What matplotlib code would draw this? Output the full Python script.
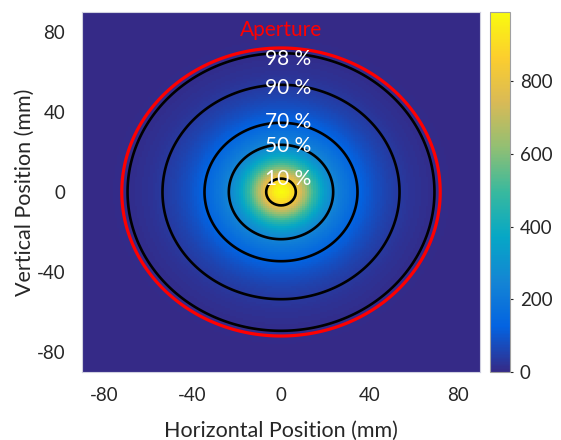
import numpy as np
import matplotlib
matplotlib.use("Agg")
import matplotlib.pyplot as plt
from matplotlib.colors import LinearSegmentedColormap

# ---- data ----
profile_r = [0, 3, 6, 9, 12, 15, 18, 21, 24, 28, 32, 36, 42, 48, 54, 60, 66, 72, 80, 130]
profile_i = [990, 960, 880, 740, 600, 480, 380, 300, 250, 200, 160, 125, 85, 55, 35, 20, 12, 6, 2, 0]
contour_r = [6.7, 23.6, 34.6, 53.6, 69.4]
contour_lbl = ["10 %", "50 %", "70 %", "90 %", "98 %"]
label_y = [6.5, 23, 35, 52, 66.5]
aperture_r = 72.0
xticks = [-80, -40, 0, 40, 80]
yticks = [-80, -40, 0, 40, 80]
cticks = [0, 200, 400, 600, 800]

parula = LinearSegmentedColormap.from_list(
    "parula", ['#352a87', '#0363e1', '#1485d4', '#06a7c6', '#38b99e',
               '#92bf73', '#d9ba56', '#fcce2e', '#f9fb0e'])

plt.rcParams['font.family'] = ['Lato', 'DejaVu Sans']
plt.rcParams['axes.unicode_minus'] = False
txt = '#262626'

fig = plt.figure(figsize=(5.61, 4.40), dpi=100)
ax = fig.add_axes([82/561, 1-372/440, 398/561, 360/440])
cax = fig.add_axes([490/561, 1-372/440, 20/561, 360/440])

g = np.linspace(-90, 90, 181)
X, Y = np.meshgrid(g, g)
R = np.hypot(X, Y)
Z = np.interp(R, profile_r, profile_i)

im = ax.imshow(Z, origin='lower', extent=[-90, 90, -90, 90], aspect='auto',
               cmap=parula, vmin=0, vmax=990, interpolation='nearest')
ax.contour(X, Y, R, levels=contour_r, colors='k', linewidths=1.9)
ax.contour(X, Y, R, levels=[aperture_r], colors='#ff0000', linewidths=2.3)

for lbl, yy in zip(contour_lbl, label_y):
    ax.text(3.2, yy, lbl, color='white', fontsize=15, ha='center', va='center')
ax.text(0, 81, "Aperture", color='#ff0000', fontsize=15, ha='center', va='center')

ax.set_xlim(-90, 90)
ax.set_ylim(-90, 90)
ax.set_xticks(xticks)
ax.set_yticks(yticks)
ax.tick_params(length=0, labelsize=13.5, colors=txt)
ax.tick_params(axis='x', pad=11)
ax.tick_params(axis='y', pad=12)
for s in ax.spines.values():
    s.set_color('#d0d0e0')
    s.set_linewidth(0.8)
ax.set_xlabel("Horizontal Position (mm)", fontsize=15.5, color=txt, labelpad=12)
ax.set_ylabel("Vertical Position (mm)", fontsize=15.5, color=txt, labelpad=1)

cb = fig.colorbar(im, cax=cax, ticks=cticks)
cb.outline.set_edgecolor('#a0a0a0')
cb.outline.set_linewidth(0.8)
cax.tick_params(length=2, width=0.8, labelsize=13.5, colors=txt, pad=5)

fig.savefig("out.png", dpi=100)
